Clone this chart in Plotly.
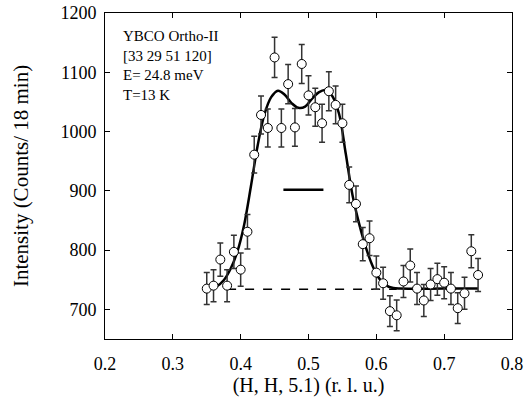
import plotly.graph_objects as go

# Measured data (H in r.l.u., intensity counts / 18 min)
h_vals = [0.35, 0.36, 0.37, 0.38, 0.39, 0.40, 0.41, 0.42, 0.43, 0.44,
          0.45, 0.46, 0.47, 0.48, 0.49, 0.50, 0.51, 0.52, 0.53, 0.54,
          0.55, 0.56, 0.57, 0.58, 0.59, 0.60, 0.61, 0.62, 0.63, 0.64,
          0.65, 0.66, 0.67, 0.68, 0.69, 0.70, 0.71, 0.72, 0.73, 0.74, 0.75]
intensity = [735, 740, 784, 740, 797, 767, 831, 961, 1028, 1006,
             1125, 1006, 1080, 1007, 1114, 1061, 1041, 1014, 1068, 1045,
             1014, 910, 878, 810, 820, 762, 744, 697, 690, 747,
             774, 735, 715, 742, 751, 745, 735, 702, 727, 798, 758]
errors = [27, 27, 28, 27, 28, 28, 29, 31, 32, 32,
          34, 32, 33, 32, 33, 33, 32, 32, 33, 32,
          32, 30, 30, 28, 29, 28, 27, 26, 26, 27,
          28, 27, 27, 27, 27, 27, 27, 26, 27, 28, 28]

# Fit curve
fit_h = [0.355, 0.365, 0.375, 0.385, 0.395, 0.405, 0.415, 0.425, 0.435, 0.445,
         0.455, 0.465, 0.475, 0.485, 0.495, 0.505, 0.515, 0.525, 0.535, 0.545,
         0.555, 0.565, 0.575, 0.585, 0.595, 0.605, 0.615, 0.625, 0.635, 0.70, 0.75]
fit_i = [736, 739, 749, 768, 797, 842, 907, 976, 1029, 1058,
         1069, 1062, 1048, 1040, 1042, 1055, 1066, 1070, 1060, 1030,
         962, 892, 843, 803, 772, 751, 740, 736, 735, 735, 735]

# Background (dashed) and resolution bar
bg_h = [0.38, 0.63]
bg_i = [734, 734]
res_h = [0.463, 0.522]
res_i = [902, 902]

FONT = "Liberation Serif, Times New Roman, serif"

fig = go.Figure()
fig.add_trace(go.Scatter(x=bg_h, y=bg_i, mode="lines",
                         line=dict(color="black", width=1.5, dash="dash"),
                         showlegend=False, hoverinfo="skip"))
fig.add_trace(go.Scatter(x=fit_h, y=fit_i, mode="lines", line_shape="spline",
                         line=dict(color="black", width=2.5),
                         showlegend=False))
fig.add_trace(go.Scatter(x=res_h, y=res_i, mode="lines",
                         line=dict(color="black", width=2.5),
                         showlegend=False))
fig.add_trace(go.Scatter(x=h_vals, y=intensity, mode="markers",
                         marker=dict(symbol="circle", size=9, color="white",
                                     line=dict(color="black", width=1)),
                         error_y=dict(type="data", array=errors, visible=True,
                                      color="#333333", thickness=1.5, width=3),
                         showlegend=False))

fig.add_annotation(x=0.2236, y=1178, xref="x", yref="y", xanchor="left", yanchor="top",
                   text="YBCO Ortho-II<br>[33 29 51 120]<br>E= 24.8 meV<br>T=13 K",
                   showarrow=False, align="left",
                   font=dict(family=FONT, size=15, color="black"))

axis_common = dict(showline=True, linecolor="black", linewidth=1, mirror="allticks",
                   ticks="inside", ticklen=5, tickcolor="black", tickwidth=1,
                   showgrid=False, zeroline=False, automargin=False,
                   tickfont=dict(family=FONT, size=18, color="black"))

fig.update_xaxes(range=[0.2, 0.8], tickvals=[0.2, 0.3, 0.4, 0.5, 0.6, 0.7, 0.8],
                 ticktext=["0.2", "0.3", "0.4", "0.5", "0.6", "0.7", "0.8"],
                 ticklabelstandoff=8,
                 title=dict(text="(H, H, 5.1) (r. l. u.)", standoff=0,
                            font=dict(family=FONT, size=20, color="black")),
                 **axis_common)
fig.update_yaxes(range=[650, 1200], tickvals=[700, 800, 900, 1000, 1100, 1200],
                 ticklabelstandoff=4,
                 title=dict(text="Intensity (Counts/ 18 min)", standoff=26,
                            font=dict(family=FONT, size=21, color="black")),
                 **axis_common)

fig.update_layout(width=524, height=403, margin=dict(l=105, r=12, t=13, b=64),
                  plot_bgcolor="white", paper_bgcolor="white",
                  font=dict(family=FONT, color="black"))

fig.write_html("out.html")
